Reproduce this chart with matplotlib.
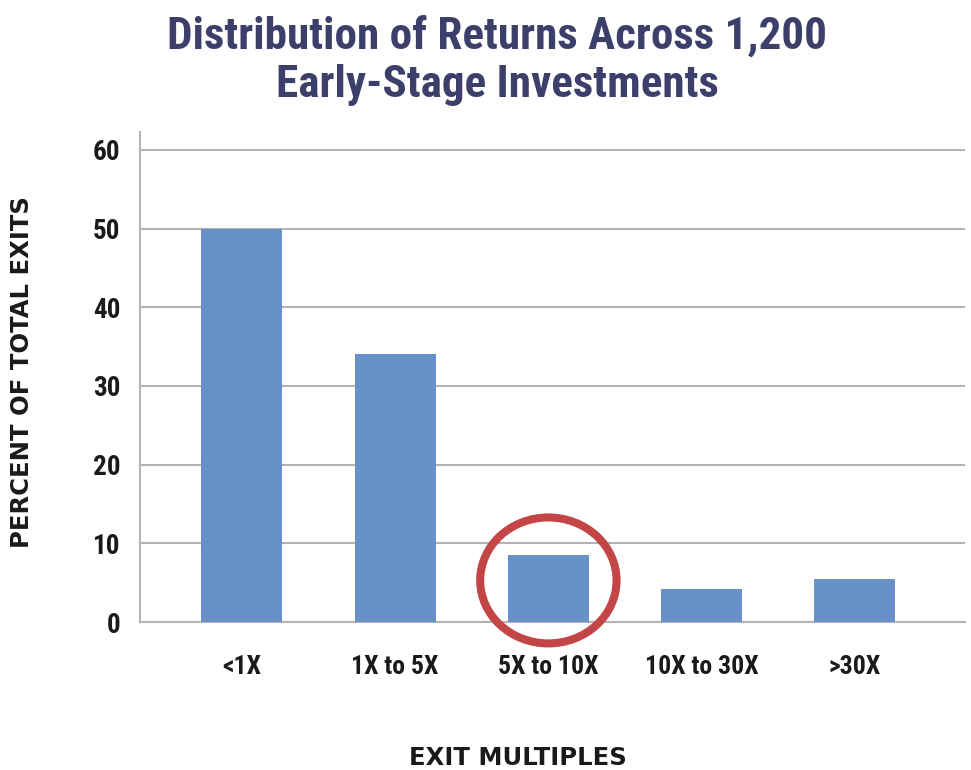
import matplotlib
matplotlib.use("Agg")
import matplotlib.pyplot as plt
from matplotlib.patches import Ellipse
from matplotlib import font_manager as fm

categories = ["<1X", "1X to 5X", "5X to 10X", "10X to 30X", ">30X"]
values = [50, 34, 8.5, 4.2, 5.5]
yticks = [0, 10, 20, 30, 40, 50, 60]
highlight = "5X to 10X"

names = {f.name for f in fm.fontManager.ttflist}
cond = None
for n in ["Roboto Condensed", "Liberation Sans Narrow", "DejaVu Sans Condensed", "Open Sans Condensed"]:
    if n in names:
        cond = n
        break
if cond is None:
    cond = "DejaVu Sans"

fig = plt.figure(figsize=(9.71, 7.70), dpi=100)
ax = fig.add_axes([0.144, 0.192, 0.85, 0.637])

x = list(range(len(categories)))
ax.bar(x, values, width=0.53, color="#6891c9", zorder=3)

ax.set_xlim(-0.666, 4.72)
ax.set_ylim(0, 62.3)
ax.set_yticks(yticks)
ax.set_xticks(x)
ax.set_xticklabels(categories)
ax.yaxis.grid(True, color="#b4b4b4", linewidth=1.5, zorder=0)
ax.set_axisbelow(True)
for s in ["top", "right"]:
    ax.spines[s].set_visible(False)
ax.spines["left"].set_color("#b4b4b4")
ax.spines["left"].set_linewidth(1.5)
ax.spines["bottom"].set_color("#b4b4b4")
ax.spines["bottom"].set_linewidth(1.5)
ax.tick_params(axis="both", length=0)
ax.tick_params(axis="y", pad=14)
ax.tick_params(axis="x", pad=24)
for lab in ax.get_yticklabels():
    lab.set_fontfamily(cond)
    lab.set_fontweight("bold")
    lab.set_fontsize(19.5)
    lab.set_color("#1a1a1a")
for lab in ax.get_xticklabels():
    lab.set_fontfamily(cond)
    lab.set_fontweight("bold")
    lab.set_fontsize(18.5)
    lab.set_color("#1a1a1a")

hi = categories.index(highlight)
circ = Ellipse((hi, 5.3), width=0.89, height=16.0, fill=False,
               edgecolor="#c44545", linewidth=5.8, zorder=4, clip_on=False)
ax.add_patch(circ)

ax.set_ylabel("PERCENT OF TOTAL EXITS", fontsize=17.5, fontweight="bold",
              color="#1a1a1a")
ax.yaxis.set_label_coords(-0.143, 0.45, transform=None)
ax.yaxis.label.set_position((0, 0))
ax.yaxis.set_label_coords(22 / 971, 1 - 372 / 770, transform=fig.transFigure)
ax.yaxis.label.set_va("center")

fig.text(0.533, 1 - 758 / 770, "EXIT MULTIPLES", ha="center", va="center",
         fontsize=17.5, fontweight="bold", color="#1a1a1a")

fig.text(0.512, 0.937, "Distribution of Returns Across 1,200", ha="center",
         va="baseline", fontsize=32.5, fontweight="bold", family=cond,
         color="#3d3f6b")
fig.text(0.512, 0.874, "Early-Stage Investments", ha="center",
         va="baseline", fontsize=32.5, fontweight="bold", family=cond,
         color="#3d3f6b")

fig.savefig("out.png", dpi=100)
